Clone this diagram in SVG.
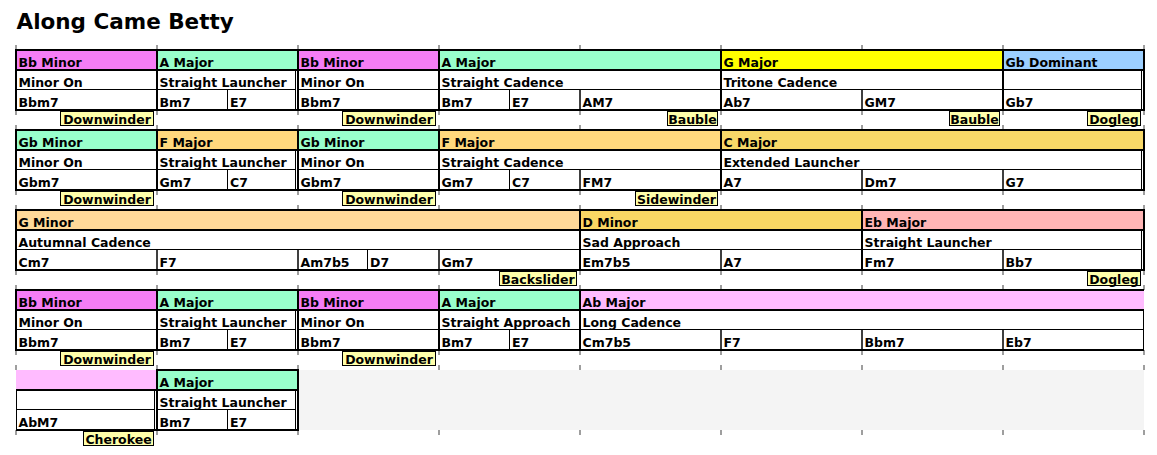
<svg xmlns="http://www.w3.org/2000/svg" width="1157" height="455" viewBox="0 0 1157 455">
<style>
text{font-family:"DejaVu Sans","Noto Sans",sans-serif;font-weight:bold;font-size:12.5px;fill:#000}
.title{font-size:21.5px}
.sec{fill:none;stroke:#000;stroke-width:2}
.thin{fill:none;stroke:#000;stroke-width:1}
.tick{fill:none;stroke:#7f7f7f;stroke-width:1.5}
.lab rect{fill:#ffffaa;stroke:#000;stroke-width:1}
.lab text{text-anchor:middle}
.bbmin{fill:#f57df5}.amaj{fill:#99ffcc}.gmaj{fill:#ffff00}.gbdom{fill:#9ccfff}
.fmaj{fill:#ffd87d}.cmaj{fill:#f8d868}.gmin{fill:#ffd999}.dmin{fill:#fad764}
.ebmaj{fill:#ffb5b5}.abmaj{fill:#ffbbff}
</style>
<text class="title" x="16.5" y="29">Along Came Betty</text>
<rect x="299" y="370" width="845" height="60" fill="#f4f4f4"/>
<g id="ticks" class="tick">
<path d="M16,45V50M157,45V50M298,45V50M439,45V50M580,45V50M721,45V50M862,45V50M1003,45V50M1144,45V50M16,110V115M157,110V115M298,110V115M439,110V115M580,110V115M721,110V115M862,110V115M1003,110V115M1144,110V115"/>
<path d="M16,125V130M157,125V130M298,125V130M439,125V130M580,125V130M721,125V130M862,125V130M1003,125V130M1144,125V130M16,190V195M157,190V195M298,190V195M439,190V195M580,190V195M721,190V195M862,190V195M1003,190V195M1144,190V195"/>
<path d="M16,205V210M157,205V210M298,205V210M439,205V210M580,205V210M721,205V210M862,205V210M1003,205V210M1144,205V210M16,270V275M157,270V275M298,270V275M439,270V275M580,270V275M721,270V275M862,270V275M1003,270V275M1144,270V275"/>
<path d="M16,285V290M157,285V290M298,285V290M439,285V290M580,285V290M721,285V290M862,285V290M1003,285V290M1144,285V290M16,350V355M157,350V355M298,350V355M439,350V355M580,350V355M721,350V355M862,350V355M1003,350V355M1144,350V355"/>
<path d="M16,365V370M157,365V370M298,365V370M439,365V370M580,365V370M721,365V370M862,365V370M1003,365V370M1144,365V370M16,430V435M157,430V435M298,430V435M439,430V435M580,430V435M721,430V435M862,430V435M1003,430V435M1144,430V435"/>
</g>

<!-- Row 1 -->
<g id="r1s1">
<rect class="bbmin" x="17" y="51" width="139" height="18"/>
<rect class="thin" x="16" y="70" width="141" height="19.5"/>
<rect class="thin" x="16" y="89.5" width="141" height="20.5"/>
<rect class="sec" x="16" y="50" width="141" height="60"/><line class="sec" x1="16" y1="70" x2="157" y2="70"/>
<text x="18.5" y="66.5">Bb Minor</text><text x="18.5" y="86.5">Minor On</text><text x="18.5" y="106.5">Bbm7</text>
</g>
<g id="r1s2">
<rect class="amaj" x="158" y="51" width="139" height="18"/>
<rect class="thin" x="157" y="70" width="138.5" height="19.5"/>
<rect class="thin" x="157" y="89.5" width="70.5" height="20.5"/>
<rect class="thin" x="227.5" y="89.5" width="68" height="20.5"/>
<rect class="sec" x="157" y="50" width="141" height="60"/><line class="sec" x1="157" y1="70" x2="298" y2="70"/>
<text x="159.5" y="66.5">A Major</text><text x="159.5" y="86.5">Straight Launcher</text><text x="159.5" y="106.5">Bm7</text><text x="230" y="106.5">E7</text>
</g>
<g id="r1s3">
<rect class="bbmin" x="299" y="51" width="139" height="18"/>
<rect class="thin" x="298" y="70" width="141" height="19.5"/>
<rect class="thin" x="298" y="89.5" width="141" height="20.5"/>
<rect class="sec" x="298" y="50" width="141" height="60"/><line class="sec" x1="298" y1="70" x2="439" y2="70"/>
<text x="300.5" y="66.5">Bb Minor</text><text x="300.5" y="86.5">Minor On</text><text x="300.5" y="106.5">Bbm7</text>
</g>
<g id="r1s4">
<rect class="amaj" x="440" y="51" width="280" height="18"/>
<rect class="thin" x="439" y="70" width="282" height="19.5"/>
<rect class="thin" x="439" y="89.5" width="70.5" height="20.5"/>
<rect class="thin" x="509.5" y="89.5" width="70.5" height="20.5"/>
<rect class="thin" x="580" y="89.5" width="141" height="20.5"/>
<rect class="sec" x="439" y="50" width="282" height="60"/><line class="sec" x1="439" y1="70" x2="721" y2="70"/>
<text x="441.5" y="66.5">A Major</text><text x="441.5" y="86.5">Straight Cadence</text><text x="441.5" y="106.5">Bm7</text><text x="512" y="106.5">E7</text><text x="582.5" y="106.5">AM7</text>
</g>
<g id="r1s5">
<rect class="gmaj" x="722" y="51" width="280" height="18"/>
<rect class="thin" x="721" y="70" width="282" height="19.5"/>
<rect class="thin" x="721" y="89.5" width="141" height="20.5"/>
<rect class="thin" x="862" y="89.5" width="141" height="20.5"/>
<rect class="sec" x="721" y="50" width="282" height="60"/><line class="sec" x1="721" y1="70" x2="1003" y2="70"/>
<text x="723.5" y="66.5">G Major</text><text x="723.5" y="86.5">Tritone Cadence</text><text x="723.5" y="106.5">Ab7</text><text x="864.5" y="106.5">GM7</text>
</g>
<g id="r1s6">
<rect class="gbdom" x="1004" y="51" width="139" height="18"/>
<rect class="thin" x="1003" y="70" width="138.5" height="19.5"/>
<rect class="thin" x="1003" y="89.5" width="138.5" height="20.5"/>
<rect class="sec" x="1003" y="50" width="141" height="60"/><line class="sec" x1="1003" y1="70" x2="1144" y2="70"/>
<text x="1005.5" y="66.5">Gb Dominant</text><text x="1005.5" y="106.5">Gb7</text>
</g>

<!-- Row 2 -->
<g id="r2s1">
<rect class="amaj" x="17" y="131" width="139" height="18"/>
<rect class="thin" x="16" y="150" width="141" height="19.5"/>
<rect class="thin" x="16" y="169.5" width="141" height="20.5"/>
<rect class="sec" x="16" y="130" width="141" height="60"/><line class="sec" x1="16" y1="150" x2="157" y2="150"/>
<text x="18.5" y="146.5">Gb Minor</text><text x="18.5" y="166.5">Minor On</text><text x="18.5" y="186.5">Gbm7</text>
</g>
<g id="r2s2">
<rect class="fmaj" x="158" y="131" width="139" height="18"/>
<rect class="thin" x="157" y="150" width="138.5" height="19.5"/>
<rect class="thin" x="157" y="169.5" width="70.5" height="20.5"/>
<rect class="thin" x="227.5" y="169.5" width="68" height="20.5"/>
<rect class="sec" x="157" y="130" width="141" height="60"/><line class="sec" x1="157" y1="150" x2="298" y2="150"/>
<text x="159.5" y="146.5">F Major</text><text x="159.5" y="166.5">Straight Launcher</text><text x="159.5" y="186.5">Gm7</text><text x="230" y="186.5">C7</text>
</g>
<g id="r2s3">
<rect class="amaj" x="299" y="131" width="139" height="18"/>
<rect class="thin" x="298" y="150" width="141" height="19.5"/>
<rect class="thin" x="298" y="169.5" width="141" height="20.5"/>
<rect class="sec" x="298" y="130" width="141" height="60"/><line class="sec" x1="298" y1="150" x2="439" y2="150"/>
<text x="300.5" y="146.5">Gb Minor</text><text x="300.5" y="166.5">Minor On</text><text x="300.5" y="186.5">Gbm7</text>
</g>
<g id="r2s4">
<rect class="fmaj" x="440" y="131" width="280" height="18"/>
<rect class="thin" x="439" y="150" width="282" height="19.5"/>
<rect class="thin" x="439" y="169.5" width="70.5" height="20.5"/>
<rect class="thin" x="509.5" y="169.5" width="70.5" height="20.5"/>
<rect class="thin" x="580" y="169.5" width="141" height="20.5"/>
<rect class="sec" x="439" y="130" width="282" height="60"/><line class="sec" x1="439" y1="150" x2="721" y2="150"/>
<text x="441.5" y="146.5">F Major</text><text x="441.5" y="166.5">Straight Cadence</text><text x="441.5" y="186.5">Gm7</text><text x="512" y="186.5">C7</text><text x="582.5" y="186.5">FM7</text>
</g>
<g id="r2s5">
<rect class="cmaj" x="722" y="131" width="421" height="18"/>
<rect class="thin" x="721" y="150" width="420.5" height="19.5"/>
<rect class="thin" x="721" y="169.5" width="141" height="20.5"/>
<rect class="thin" x="862" y="169.5" width="141" height="20.5"/>
<rect class="thin" x="1003" y="169.5" width="138.5" height="20.5"/>
<rect class="sec" x="721" y="130" width="423" height="60"/><line class="sec" x1="721" y1="150" x2="1144" y2="150"/>
<text x="723.5" y="146.5">C Major</text><text x="723.5" y="166.5">Extended Launcher</text><text x="723.5" y="186.5">A7</text><text x="864.5" y="186.5">Dm7</text><text x="1005.5" y="186.5">G7</text>
</g>

<!-- Row 3 -->
<g id="r3s1">
<rect class="gmin" x="17" y="211" width="562" height="18"/>
<rect class="thin" x="16" y="230" width="564" height="19.5"/>
<rect class="thin" x="16" y="249.5" width="141" height="20.5"/>
<rect class="thin" x="157" y="249.5" width="141" height="20.5"/>
<rect class="thin" x="298" y="249.5" width="69.5" height="20.5"/>
<rect class="thin" x="367.5" y="249.5" width="71.5" height="20.5"/>
<rect class="thin" x="439" y="249.5" width="141" height="20.5"/>
<rect class="sec" x="16" y="210" width="564" height="60"/><line class="sec" x1="16" y1="230" x2="580" y2="230"/>
<text x="18.5" y="226.5">G Minor</text><text x="18.5" y="246.5">Autumnal Cadence</text><text x="18.5" y="266.5">Cm7</text><text x="159.5" y="266.5">F7</text><text x="300.5" y="266.5">Am7b5</text><text x="370" y="266.5">D7</text><text x="441.5" y="266.5">Gm7</text>
</g>
<g id="r3s2">
<rect class="dmin" x="581" y="211" width="280" height="18"/>
<rect class="thin" x="580" y="230" width="282" height="19.5"/>
<rect class="thin" x="580" y="249.5" width="141" height="20.5"/>
<rect class="thin" x="721" y="249.5" width="141" height="20.5"/>
<rect class="sec" x="580" y="210" width="282" height="60"/><line class="sec" x1="580" y1="230" x2="862" y2="230"/>
<text x="582.5" y="226.5">D Minor</text><text x="582.5" y="246.5">Sad Approach</text><text x="582.5" y="266.5">Em7b5</text><text x="723.5" y="266.5">A7</text>
</g>
<g id="r3s3">
<rect class="ebmaj" x="863" y="211" width="280" height="18"/>
<rect class="thin" x="862" y="230" width="279.5" height="19.5"/>
<rect class="thin" x="862" y="249.5" width="141" height="20.5"/>
<rect class="thin" x="1003" y="249.5" width="138.5" height="20.5"/>
<rect class="sec" x="862" y="210" width="282" height="60"/><line class="sec" x1="862" y1="230" x2="1144" y2="230"/>
<text x="864.5" y="226.5">Eb Major</text><text x="864.5" y="246.5">Straight Launcher</text><text x="864.5" y="266.5">Fm7</text><text x="1005.5" y="266.5">Bb7</text>
</g>

<!-- Row 4 -->
<g id="r4s1">
<rect class="bbmin" x="17" y="291" width="139" height="18"/>
<rect class="thin" x="16" y="310" width="141" height="19.5"/>
<rect class="thin" x="16" y="329.5" width="141" height="20.5"/>
<rect class="sec" x="16" y="290" width="141" height="60"/><line class="sec" x1="16" y1="310" x2="157" y2="310"/>
<text x="18.5" y="306.5">Bb Minor</text><text x="18.5" y="326.5">Minor On</text><text x="18.5" y="346.5">Bbm7</text>
</g>
<g id="r4s2">
<rect class="amaj" x="158" y="291" width="139" height="18"/>
<rect class="thin" x="157" y="310" width="138.5" height="19.5"/>
<rect class="thin" x="157" y="329.5" width="70.5" height="20.5"/>
<rect class="thin" x="227.5" y="329.5" width="68" height="20.5"/>
<rect class="sec" x="157" y="290" width="141" height="60"/><line class="sec" x1="157" y1="310" x2="298" y2="310"/>
<text x="159.5" y="306.5">A Major</text><text x="159.5" y="326.5">Straight Launcher</text><text x="159.5" y="346.5">Bm7</text><text x="230" y="346.5">E7</text>
</g>
<g id="r4s3">
<rect class="bbmin" x="299" y="291" width="139" height="18"/>
<rect class="thin" x="298" y="310" width="141" height="19.5"/>
<rect class="thin" x="298" y="329.5" width="141" height="20.5"/>
<rect class="sec" x="298" y="290" width="141" height="60"/><line class="sec" x1="298" y1="310" x2="439" y2="310"/>
<text x="300.5" y="306.5">Bb Minor</text><text x="300.5" y="326.5">Minor On</text><text x="300.5" y="346.5">Bbm7</text>
</g>
<g id="r4s4">
<rect class="amaj" x="440" y="291" width="139" height="18"/>
<rect class="thin" x="439" y="310" width="141" height="19.5"/>
<rect class="thin" x="439" y="329.5" width="70.5" height="20.5"/>
<rect class="thin" x="509.5" y="329.5" width="70.5" height="20.5"/>
<rect class="sec" x="439" y="290" width="141" height="60"/><line class="sec" x1="439" y1="310" x2="580" y2="310"/>
<text x="441.5" y="306.5">A Major</text><text x="441.5" y="326.5">Straight Approach</text><text x="441.5" y="346.5">Bm7</text><text x="512" y="346.5">E7</text>
</g>
<g id="r4s5">
<rect class="abmaj" x="581" y="291" width="563" height="18"/>
<rect class="thin" x="580" y="310" width="563.5" height="19.5"/>
<rect class="thin" x="580" y="329.5" width="141" height="20.5"/>
<rect class="thin" x="721" y="329.5" width="141" height="20.5"/>
<rect class="thin" x="862" y="329.5" width="141" height="20.5"/>
<rect class="thin" x="1003" y="329.5" width="140.5" height="20.5"/>
<path class="sec" d="M1144,290H580V350H1144M580,310H1144"/>
<text x="582.5" y="306.5">Ab Major</text><text x="582.5" y="326.5">Long Cadence</text><text x="582.5" y="346.5">Cm7b5</text><text x="723.5" y="346.5">F7</text><text x="864.5" y="346.5">Bbm7</text><text x="1005.5" y="346.5">Eb7</text>
</g>

<!-- Row 5 -->
<g id="r5s1">
<rect class="abmaj" x="16" y="370" width="140" height="19"/>
<rect class="thin" x="16.5" y="390" width="138" height="19.5"/>
<rect class="thin" x="16.5" y="409.5" width="138" height="20.5"/>
<path class="sec" d="M16,430H157V370M16,390H157"/>
<text x="18.5" y="426.5">AbM7</text>
</g>
<g id="r5s2">
<rect class="amaj" x="158" y="371" width="139" height="18"/>
<rect class="thin" x="157" y="390" width="138.5" height="19.5"/>
<rect class="thin" x="157" y="409.5" width="70.5" height="20.5"/>
<rect class="thin" x="227.5" y="409.5" width="68" height="20.5"/>
<rect class="sec" x="157" y="370" width="141" height="60"/><line class="sec" x1="157" y1="390" x2="298" y2="390"/>
<text x="159.5" y="386.5">A Major</text><text x="159.5" y="406.5">Straight Launcher</text><text x="159.5" y="426.5">Bm7</text><text x="230" y="426.5">E7</text>
</g>

<!-- Join labels -->
<g id="lab1" class="lab"><rect x="60.5" y="111.5" width="93" height="14"/><text x="107" y="124">Downwinder</text></g>
<g id="lab2" class="lab"><rect x="342.5" y="111.5" width="93" height="14"/><text x="389" y="124">Downwinder</text></g>
<g id="lab3" class="lab"><rect x="667.5" y="111.5" width="50" height="14"/><text x="692.5" y="124">Bauble</text></g>
<g id="lab4" class="lab"><rect x="949.5" y="111.5" width="50" height="14"/><text x="974.5" y="124">Bauble</text></g>
<g id="lab5" class="lab"><rect x="1087.5" y="111.5" width="53" height="14"/><text x="1114" y="124">Dogleg</text></g>
<g id="lab6" class="lab"><rect x="60.5" y="191.5" width="93" height="14"/><text x="107" y="204">Downwinder</text></g>
<g id="lab7" class="lab"><rect x="342.5" y="191.5" width="93" height="14"/><text x="389" y="204">Downwinder</text></g>
<g id="lab8" class="lab"><rect x="635.5" y="191.5" width="82" height="14"/><text x="676.5" y="204">Sidewinder</text></g>
<g id="lab9" class="lab"><rect x="499.5" y="271.5" width="77" height="14"/><text x="538" y="284">Backslider</text></g>
<g id="lab10" class="lab"><rect x="1087.5" y="271.5" width="53" height="14"/><text x="1114" y="284">Dogleg</text></g>
<g id="lab11" class="lab"><rect x="60.5" y="351.5" width="93" height="14"/><text x="107" y="364">Downwinder</text></g>
<g id="lab12" class="lab"><rect x="342.5" y="351.5" width="93" height="14"/><text x="389" y="364">Downwinder</text></g>
<g id="lab13" class="lab"><rect x="83.5" y="431.5" width="70" height="14"/><text x="118.5" y="444">Cherokee</text></g>
</svg>
